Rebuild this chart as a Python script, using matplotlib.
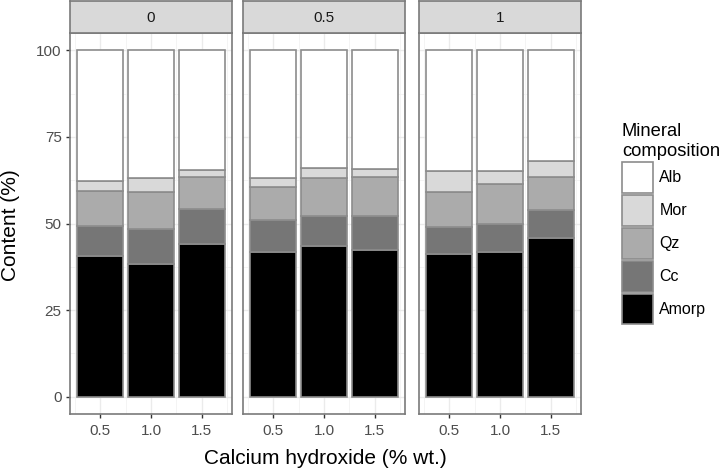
import numpy as np
import matplotlib
matplotlib.use("Agg")
import matplotlib.pyplot as plt
from matplotlib.patches import Patch

plt.rcParams['font.family'] = ['Liberation Sans', 'DejaVu Sans']

## DONNEES
panels = ["0", "0.5", "1"]
doses = [0.5, 1.0, 1.5]
dose_labels = ["0.5", "1.0", "1.5"]
minerals = ["Amorp", "Cc", "Qz", "Mor", "Alb"]
colors = ["#000000", "#767676", "#ababab", "#d9d9d9", "#ffffff"]

amorp = [[40.7, 38.3, 44.1], [41.9, 43.6, 42.4], [41.2, 41.9, 45.7]]
cc = [[8.6, 10.1, 10.1], [9.1, 8.7, 9.7], [7.9, 8.0, 8.2]]
qz = [[10.2, 10.6, 9.3], [9.5, 10.8, 11.3], [10.1, 11.5, 9.6]]
mor = [[2.8, 4.2, 2.0], [2.6, 3.0, 2.2], [5.9, 3.7, 4.5]]
alb = [[37.7, 36.8, 34.5], [36.9, 33.9, 34.4], [34.9, 34.9, 32.0]]

data = [amorp, cc, qz, mor, alb]

W, H = 725., 469.
fig = plt.figure(figsize=(7.25, 4.69), dpi=100)

lefts = [70, 243, 419]
pw = 162
top = 33
bot = 414
strip_h = 32

x = np.array(doses)
for p in range(3):
    ax = fig.add_axes([lefts[p]/W, 1-bot/H, pw/W, (bot-top)/H])
    base = np.zeros(3)
    for k in range(5):
        vals = np.array(data[k][p])
        ax.bar(x, vals, 0.45, bottom=base, color=colors[k], edgecolor="#8c8c8c",
               linewidth=1.2, zorder=3)
        base = base + vals
    ax.set_xlim(0.2025, 1.7975)
    ax.set_ylim(-5, 105)
    ax.set_xticks(x)
    ax.set_xticklabels(dose_labels)
    ax.set_yticks([0, 25, 50, 75, 100])
    ax.set_yticks([12.5, 37.5, 62.5, 87.5], minor=True)
    ax.set_xticks([0.25, 0.75, 1.25, 1.75], minor=True)
    ax.grid(which="major", color="#ebebeb", linewidth=1.0, zorder=0)
    ax.grid(which="minor", color="#f2f2f2", linewidth=0.6, zorder=0)
    ax.tick_params(which="minor", length=0)
    ax.tick_params(which="major", length=3, width=1, color="#333333",
                   labelsize=11, labelcolor="#4d4d4d", pad=4)
    ax.tick_params(axis="y", pad=3)
    if p > 0:
        ax.set_yticklabels([])
        ax.tick_params(axis="y", length=0)
    for s in ax.spines.values():
        s.set_color("#7a7a7a")
        s.set_linewidth(1.2)
    # bandeau
    st = fig.add_axes([lefts[p]/W, 1-(top)/H, pw/W, strip_h/H])
    st.set_facecolor("#d9d9d9")
    st.set_xticks([])
    st.set_yticks([])
    for s in st.spines.values():
        s.set_color("#7a7a7a")
        s.set_linewidth(1.2)
    st.text(0.5, 0.47, panels[p], ha="center", va="center", fontsize=11,
            color="#1a1a1a", transform=st.transAxes)

fig.text(325/W, 1-458/H, "Calcium hydroxide (% wt.)", ha="center", va="center",
         fontsize=15)
fig.text(11/W, 1-225/H, "Content (%)", ha="center", va="center",
         rotation=90, fontsize=15)

handles = [Patch(facecolor=colors[k], edgecolor="#8c8c8c", linewidth=1.2)
           for k in range(4, -1, -1)]
labels = [minerals[k] for k in range(4, -1, -1)]
leg = fig.legend(handles, labels, loc="upper left",
                 bbox_to_anchor=(614/W, 1-115/H), frameon=False,
                 title="Mineral\ncomposition", title_fontsize=13.2,
                 fontsize=11.5, handlelength=1.94, handleheight=2.6,
                 labelspacing=0.13, handletextpad=0.4, borderpad=0,
                 alignment="left")

plt.savefig("out.png", dpi=100)
